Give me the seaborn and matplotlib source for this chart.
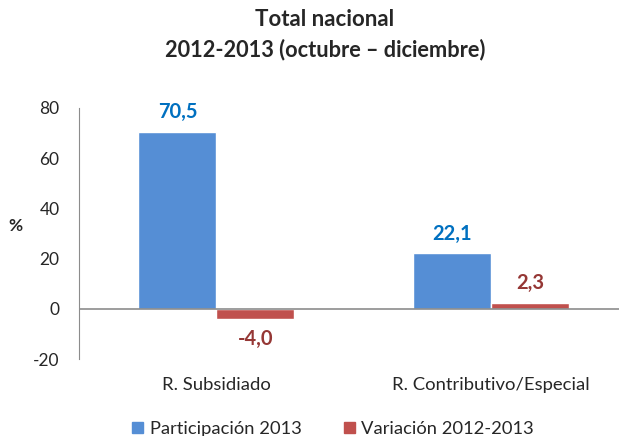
import numpy as np
import pandas as pd
import matplotlib.pyplot as plt
import seaborn as sns

categorias = ["R. Subsidiado", "R. Contributivo/Especial"]
series = ["Participación 2013", "Variación 2012-2013"]
participacion = [70.5, 22.1]
variacion = [-4.0, 2.3]

df = pd.DataFrame({
    "categoria": categorias * 2,
    "serie": [series[0]] * 2 + [series[1]] * 2,
    "valor": participacion + variacion,
})

azul = "#558ED5"
rojo = "#C0504D"
azul_txt = "#0070C0"
rojo_txt = "#953735"

sns.set_style("white")
plt.rcParams['font.family'] = ['Lato', 'DejaVu Sans']
plt.rcParams['axes.unicode_minus'] = False

fig = plt.figure(figsize=(6.19, 4.36), dpi=100)
ax = fig.add_axes([79/619, 1-359/436, 1-79/619, (359-108)/436])

sns.barplot(data=df, x="categoria", y="valor", hue="serie", palette=[azul, rojo],
            width=0.567, saturation=1, gap=0, ax=ax)
ax.get_legend().remove()

ax.set_ylim(-20, 80)
ax.set_yticks([-20, 0, 20, 40, 60, 80])
ax.set_xlim(-0.5, 1.465)
ax.set_xlabel("")
ax.set_ylabel("")
ax.tick_params(axis="y", length=0, pad=14, labelsize=12.5)
ax.tick_params(axis="x", length=0, pad=13, labelsize=13.3)
for s in ["top", "right", "bottom"]:
    ax.spines[s].set_visible(False)
ax.spines["left"].set_color("#8C8C8C")
ax.axhline(0, color="#8C8C8C", lw=1.2, zorder=5)

# etiquetas de valor con coma decimal
for cont, col in zip(ax.containers, [azul_txt, rojo_txt]):
    ax.bar_label(cont, labels=[f"{v:.1f}".replace(".", ",") for v in cont.datavalues],
                 padding=7, color=col, fontsize=14.5, fontweight="bold")

fig.text(15/619, 1-226/436, "%", ha="center", va="center", fontsize=12.5, fontweight="bold")
fig.text(325/619, 1-20/436, "Total nacional", ha="center", va="center", fontsize=16, fontweight="bold")
fig.text(325/619, 1-50/436, "2012-2013 (octubre – diciembre)", ha="center", va="center",
         fontsize=15.7, fontweight="bold")

handles = [plt.Rectangle((0, 0), 1, 1, color=azul), plt.Rectangle((0, 0), 1, 1, color=rojo)]
fig.legend(handles, series, loc="center", bbox_to_anchor=(333/619, 1-429/436), ncol=2,
           frameon=False, fontsize=13.2, handlelength=0.6, handleheight=0.6,
           handletextpad=0.35, columnspacing=2.3)

fig.savefig("out.png", dpi=100)
